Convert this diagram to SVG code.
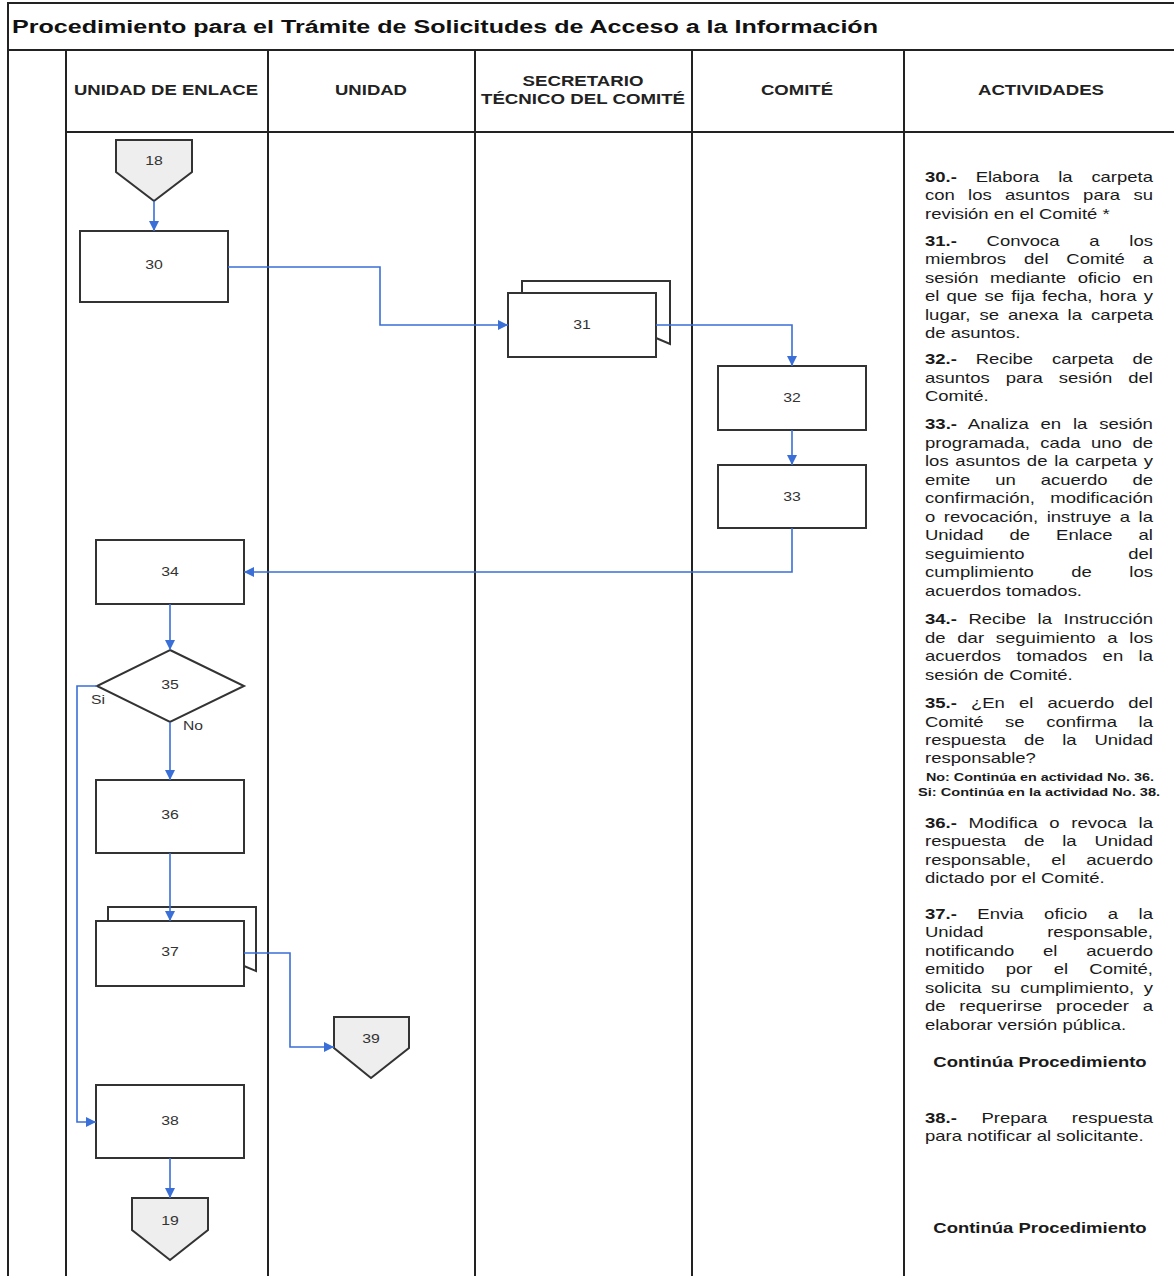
<svg xmlns="http://www.w3.org/2000/svg" width="1174" height="1276" viewBox="0 0 1174 1276">
<style>
.frame{stroke:#222;stroke-width:2;fill:none}
.box{fill:#fff;stroke:#333;stroke-width:2}
.off{fill:#eeeeee;stroke:#333;stroke-width:2}
.con{fill:none;stroke:#3a6fd8;stroke-width:1.6}
.hd{font-family:"Liberation Sans",Arial,sans-serif;font-weight:bold;font-size:14px;fill:#222;text-anchor:middle}
.ttl{font-family:"Liberation Sans",Arial,sans-serif;font-weight:bold;font-size:18px;fill:#111}
.lbl{font-family:"Liberation Sans",Arial,sans-serif;font-size:12px;fill:#333;text-anchor:middle}
.yn{font-family:"Liberation Sans",Arial,sans-serif;font-size:12px;fill:#333}
.act{font-family:"Liberation Sans",Arial,sans-serif;font-size:14px;fill:#1a1a1a}
.b{font-weight:bold}
.sm{font-family:"Liberation Sans",Arial,sans-serif;font-size:10.5px;font-weight:bold;fill:#1a1a1a;text-anchor:middle}
.cp{font-family:"Liberation Sans",Arial,sans-serif;font-size:14px;font-weight:bold;fill:#1a1a1a;text-anchor:middle}
</style>
<defs>
<marker id="ah" markerUnits="userSpaceOnUse" markerWidth="11" markerHeight="10" refX="10" refY="5" orient="auto">
<path d="M0,0 L10,5 L0,10 z" fill="#3a6fd8"/>
</marker>
</defs>
<rect width="1174" height="1276" fill="#fff"/>
<g id="frame">
<path class="frame" d="M8,1276 V3 H1176 M8,50 H1176 M66,132 H1176 M66,50 V1276 M268,50 V1276 M475,50 V1276 M692,50 V1276 M904,50 V1276"/>
<text class="ttl" x="12" y="33" textLength="866" lengthAdjust="spacingAndGlyphs">Procedimiento para el Trámite de Solicitudes de Acceso a la Información</text>
<text class="hd" x="166" y="95" textLength="184" lengthAdjust="spacingAndGlyphs">UNIDAD DE ENLACE</text>
<text class="hd" x="371" y="95" textLength="72" lengthAdjust="spacingAndGlyphs">UNIDAD</text>
<text class="hd" x="583" y="86" textLength="121" lengthAdjust="spacingAndGlyphs">SECRETARIO</text>
<text class="hd" x="583" y="104" textLength="204" lengthAdjust="spacingAndGlyphs">TÉCNICO DEL COMITÉ</text>
<text class="hd" x="797" y="95" textLength="72" lengthAdjust="spacingAndGlyphs">COMITÉ</text>
<text class="hd" x="1041" y="95" textLength="126" lengthAdjust="spacingAndGlyphs">ACTIVIDADES</text>
</g>
<g id="n18"><polygon class="off" points="116,140 192,140 192,172 154,201 116,172"/><text class="lbl" x="154" y="165" textLength="17.6" lengthAdjust="spacingAndGlyphs">18</text></g>
<g id="n30"><rect class="box" x="80" y="231" width="148" height="71"/><text class="lbl" x="154" y="269" textLength="17.6" lengthAdjust="spacingAndGlyphs">30</text></g>
<g id="n31"><path class="box" d="M522,293 V281 H670 V344 L656,338"/><rect class="box" x="508" y="293" width="148" height="64"/><text class="lbl" x="582" y="329" textLength="17.6" lengthAdjust="spacingAndGlyphs">31</text></g>
<g id="n32"><rect class="box" x="718" y="366" width="148" height="64"/><text class="lbl" x="792" y="402" textLength="17.6" lengthAdjust="spacingAndGlyphs">32</text></g>
<g id="n33"><rect class="box" x="718" y="465" width="148" height="63"/><text class="lbl" x="792" y="501" textLength="17.6" lengthAdjust="spacingAndGlyphs">33</text></g>
<g id="n34"><rect class="box" x="96" y="540" width="148" height="64"/><text class="lbl" x="170" y="576" textLength="17.6" lengthAdjust="spacingAndGlyphs">34</text></g>
<g id="n35"><polygon class="box" points="170,650 244,686 170,722 97,686"/><text class="lbl" x="170" y="689" textLength="17.6" lengthAdjust="spacingAndGlyphs">35</text></g>
<g id="n36"><rect class="box" x="96" y="780" width="148" height="73"/><text class="lbl" x="170" y="819" textLength="17.6" lengthAdjust="spacingAndGlyphs">36</text></g>
<g id="n37"><path class="box" d="M108,921 V907 H256 V971 L244,966"/><rect class="box" x="96" y="921" width="148" height="65"/><text class="lbl" x="170" y="956" textLength="17.6" lengthAdjust="spacingAndGlyphs">37</text></g>
<g id="n39"><polygon class="off" points="334,1017 409,1017 409,1048 371,1078 334,1048"/><text class="lbl" x="371" y="1043" textLength="17.6" lengthAdjust="spacingAndGlyphs">39</text></g>
<g id="n38"><rect class="box" x="96" y="1085" width="148" height="73"/><text class="lbl" x="170" y="1125" textLength="17.6" lengthAdjust="spacingAndGlyphs">38</text></g>
<g id="n19"><polygon class="off" points="132,1198 208,1198 208,1230 170,1260 132,1230"/><text class="lbl" x="170" y="1225" textLength="17.6" lengthAdjust="spacingAndGlyphs">19</text></g>
<g id="connectors">
<path class="con" marker-end="url(#ah)" d="M154,201 V231"/>
<path class="con" marker-end="url(#ah)" d="M228,267 H380 V325 H508"/>
<path class="con" marker-end="url(#ah)" d="M656,325 H792 V366"/>
<path class="con" marker-end="url(#ah)" d="M792,430 V465"/>
<path class="con" marker-end="url(#ah)" d="M792,528 V572 H244"/>
<path class="con" marker-end="url(#ah)" d="M170,604 V650"/>
<path class="con" marker-end="url(#ah)" d="M170,722 V780"/>
<path class="con" marker-end="url(#ah)" d="M97,686 H77 V1122 H96"/>
<path class="con" marker-end="url(#ah)" d="M170,853 V921"/>
<path class="con" marker-end="url(#ah)" d="M244,953 H290 V1047 H334"/>
<path class="con" marker-end="url(#ah)" d="M170,1158 V1198"/>
<text class="yn" x="91" y="704" textLength="14" lengthAdjust="spacingAndGlyphs">Si</text>
<text class="yn" x="183" y="730" textLength="20" lengthAdjust="spacingAndGlyphs">No</text>
</g>
<g id="actividades" transform="translate(925 0) scale(1.32 1)">
<text class="act" x="0" y="182" textLength="172.7" lengthAdjust="spacingAndGlyphs" word-spacing="10.4"><tspan class="b">30.-</tspan> Elabora la carpeta</text>
<text class="act" x="0" y="200.5" textLength="172.7" lengthAdjust="spacingAndGlyphs" word-spacing="6.2">con los asuntos para su</text>
<text class="act" x="0" y="219">revisión en el Comité *</text>

<text class="act" x="0" y="246" textLength="172.7" lengthAdjust="spacingAndGlyphs" word-spacing="18.7"><tspan class="b">31.-</tspan> Convoca a los</text>
<text class="act" x="0" y="264.5" textLength="172.7" lengthAdjust="spacingAndGlyphs" word-spacing="9.6">miembros del Comité a</text>
<text class="act" x="0" y="283" textLength="172.7" lengthAdjust="spacingAndGlyphs" word-spacing="4.9">sesión mediante oficio en</text>
<text class="act" x="0" y="301.5" textLength="172.7" lengthAdjust="spacingAndGlyphs" word-spacing="1.5">el que se fija fecha, hora y</text>
<text class="act" x="0" y="320" textLength="172.7" lengthAdjust="spacingAndGlyphs" word-spacing="2.9">lugar, se anexa la carpeta</text>
<text class="act" x="0" y="338.5">de asuntos.</text>

<text class="act" x="0" y="364.5" textLength="172.7" lengthAdjust="spacingAndGlyphs" word-spacing="10.4"><tspan class="b">32.-</tspan> Recibe carpeta de</text>
<text class="act" x="0" y="383" textLength="172.7" lengthAdjust="spacingAndGlyphs" word-spacing="8.3">asuntos para sesión del</text>
<text class="act" x="0" y="401.5">Comité.</text>

<text class="act" x="0" y="429.5" textLength="172.7" lengthAdjust="spacingAndGlyphs" word-spacing="5"><tspan class="b">33.-</tspan> Analiza en la sesión</text>
<text class="act" x="0" y="448" textLength="172.7" lengthAdjust="spacingAndGlyphs" word-spacing="4.1">programada, cada uno de</text>
<text class="act" x="0" y="466.5" textLength="172.7" lengthAdjust="spacingAndGlyphs" word-spacing="1.2">los asuntos de la carpeta y</text>
<text class="act" x="0" y="485" textLength="172.7" lengthAdjust="spacingAndGlyphs" word-spacing="15">emite un acuerdo de</text>
<text class="act" x="0" y="503.5" textLength="172.7" lengthAdjust="spacingAndGlyphs" word-spacing="7.8">confirmación, modificación</text>
<text class="act" x="0" y="522" textLength="172.7" lengthAdjust="spacingAndGlyphs" word-spacing="2.5">o revocación, instruye a la</text>
<text class="act" x="0" y="540.5" textLength="172.7" lengthAdjust="spacingAndGlyphs" word-spacing="15.8">Unidad de Enlace al</text>
<text class="act" x="0" y="559" textLength="172.7" lengthAdjust="spacingAndGlyphs" word-spacing="74.7">seguimiento del</text>
<text class="act" x="0" y="577.5" textLength="172.7" lengthAdjust="spacingAndGlyphs" word-spacing="24.5">cumplimiento de los</text>
<text class="act" x="0" y="596">acuerdos tomados.</text>

<text class="act" x="0" y="624.5" textLength="172.7" lengthAdjust="spacingAndGlyphs" word-spacing="4.9"><tspan class="b">34.-</tspan> Recibe la Instrucción</text>
<text class="act" x="0" y="643" textLength="172.7" lengthAdjust="spacingAndGlyphs" word-spacing="5">de dar seguimiento a los</text>
<text class="act" x="0" y="661.5" textLength="172.7" lengthAdjust="spacingAndGlyphs" word-spacing="7.8">acuerdos tomados en la</text>
<text class="act" x="0" y="680">sesión de Comité.</text>

<text class="act" x="0" y="708" textLength="172.7" lengthAdjust="spacingAndGlyphs" word-spacing="6.8"><tspan class="b">35.-</tspan> ¿En el acuerdo del</text>
<text class="act" x="0" y="726.5" textLength="172.7" lengthAdjust="spacingAndGlyphs" word-spacing="12.4">Comité se confirma la</text>
<text class="act" x="0" y="745" textLength="172.7" lengthAdjust="spacingAndGlyphs" word-spacing="9.6">respuesta de la Unidad</text>
<text class="act" x="0" y="763.5">responsable?</text>
<text class="sm" x="87.1" y="781" textLength="172.7" lengthAdjust="spacingAndGlyphs">No: Continúa en actividad No. 36.</text>
<text class="sm" x="86.4" y="796" textLength="183.3" lengthAdjust="spacingAndGlyphs">Si: Continúa en la actividad No. 38.</text>

<text class="act" x="0" y="828" textLength="172.7" lengthAdjust="spacingAndGlyphs" word-spacing="5"><tspan class="b">36.-</tspan> Modifica o revoca la</text>
<text class="act" x="0" y="846.5" textLength="172.7" lengthAdjust="spacingAndGlyphs" word-spacing="9.6">respuesta de la Unidad</text>
<text class="act" x="0" y="865" textLength="172.7" lengthAdjust="spacingAndGlyphs" word-spacing="11.6">responsable, el acuerdo</text>
<text class="act" x="0" y="883.5">dictado por el Comité.</text>

<text class="act" x="0" y="919" textLength="172.7" lengthAdjust="spacingAndGlyphs" word-spacing="11.6"><tspan class="b">37.-</tspan> Envia oficio a la</text>
<text class="act" x="0" y="937.5" textLength="172.7" lengthAdjust="spacingAndGlyphs" word-spacing="44.3">Unidad responsable,</text>
<text class="act" x="0" y="956" textLength="172.7" lengthAdjust="spacingAndGlyphs" word-spacing="17.9">notificando el acuerdo</text>
<text class="act" x="0" y="974.5" textLength="172.7" lengthAdjust="spacingAndGlyphs" word-spacing="12.2">emitido por el Comité,</text>
<text class="act" x="0" y="993" textLength="172.7" lengthAdjust="spacingAndGlyphs" word-spacing="3.4">solicita su cumplimiento, y</text>
<text class="act" x="0" y="1011.5" textLength="172.7" lengthAdjust="spacingAndGlyphs" word-spacing="6.5">de requerirse proceder a</text>
<text class="act" x="0" y="1030">elaborar versión pública.</text>

<text class="cp" x="87.1" y="1067">Continúa Procedimiento</text>

<text class="act" x="0" y="1123" textLength="172.7" lengthAdjust="spacingAndGlyphs" word-spacing="14.7"><tspan class="b">38.-</tspan> Prepara respuesta</text>
<text class="act" x="0" y="1141.5">para notificar al solicitante.</text>

<text class="cp" x="87.1" y="1233">Continúa Procedimiento</text>
</g>
</svg>
